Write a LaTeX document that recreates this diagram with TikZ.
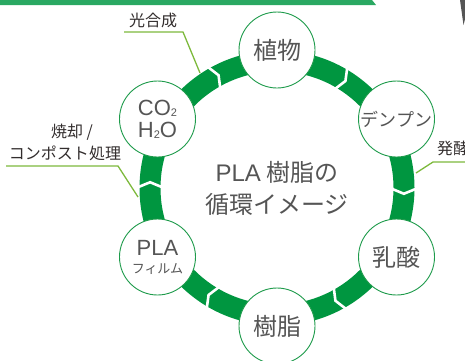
\documentclass[tikz,border=0pt]{standalone}
\usepackage{fontspec}
\setmainfont{Noto Sans CJK JP}
\newfontfamily\latn{Liberation Sans}
\usetikzlibrary{calc}
\definecolor{ringgreen}{RGB}{0,150,64}
\definecolor{edgegreen}{RGB}{30,155,75}
\definecolor{leafline}{RGB}{125,185,60}
\definecolor{barcol}{RGB}{42,168,98}
\definecolor{txtgray}{RGB}{85,85,85}
\definecolor{lbldark}{RGB}{50,45,45}
\tikzset{
  stage/.style={circle, draw=edgegreen, line width=0.9pt, fill=white, minimum size=76pt,
    inner sep=0pt, text=txtgray, align=center, font=\fontsize{24}{26}\selectfont},
  leader/.style={draw=leafline, line width=1.3pt},
  lbl/.style={text=lbldark, inner sep=0pt, font=\fontsize{16}{19}\selectfont, align=center},
  chev/.style={draw=white, line width=2.6pt, miter limit=10}
}
\begin{document}
\begin{tikzpicture}[x=1pt,y=1pt]
\useasboundingbox (0,0) rectangle (465,360);
\clip (0,0) rectangle (465,360);
% top bar and corner
\fill[barcol] (0,360) -- (372,360) -- (376,355) -- (0,355) -- cycle;
\fill[txtgray] (460,360) -- (470,360) -- (463.5,335) -- cycle;
\coordinate (c) at (277,172);
% ring
\draw[ringgreen, line width=21pt] (c) circle[radius=127];
\foreach \a in {60,0,-60,-120,180,120}{
  \draw[chev] ($(c)+(\a:141)$) -- ($(c)+(\a-2.6:127)$) -- ($(c)+(\a:113)$);
}
% leader lines
\coordinate (g1) at (124,328); \coordinate (g2) at (183,328); \coordinate (g3) at (200,287);
\draw[leader] (g1) -- (g2) -- (g3);
\coordinate (b1) at (6,194); \coordinate (b2) at (118,194); \coordinate (b3) at (138,163);
\draw[leader] (b1) -- (b2) -- (b3);
\coordinate (f1) at (416,187); \coordinate (f2) at (433,198); \coordinate (f3) at (470,198);
\draw[leader] (f1) -- (f2) -- (f3);
% labels
\node[lbl] (koso) at (153,340) {光合成};
\node[lbl] (shokyaku) at (72,228) {焼却 /};
\node[lbl] (compost) at (65,207) {コンポスト処理};
\node[lbl, anchor=west] (hakko) at (437,212) {発酵};
% stages
\node[stage] (plant) at ($(c)+(90:138)$) {植物};
\node[stage, font=\fontsize{18}{20}\selectfont] (starch) at ($(c)+(30:138)$) {デンプン};
\node[stage] (lactic) at ($(c)+(-30:138)$) {乳酸};
\node[stage] (resin) at ($(c)+(-90:138)$) {樹脂};
\node[stage, font=\fontsize{22}{18}\selectfont] (film) at ($(c)+(-150:138)$)
  {{\latn PLA}\\[0pt]{\fontsize{13}{14}\selectfont フィルム}};
\node[stage, font=\fontsize{22}{22}\selectfont\latn] (co2) at ($(c)+(150:138)$)
  {CO{\fontsize{11}{11}\selectfont\raisebox{-1pt}{2}}\\H{\fontsize{11}{11}\selectfont\raisebox{-1pt}{2}}O};
% centre title
\node[text=txtgray, align=center, font=\fontsize{24}{32}\selectfont] (title) at (c) {{\latn PLA} 樹脂の\\循環イメージ};
\end{tikzpicture}
\end{document}
